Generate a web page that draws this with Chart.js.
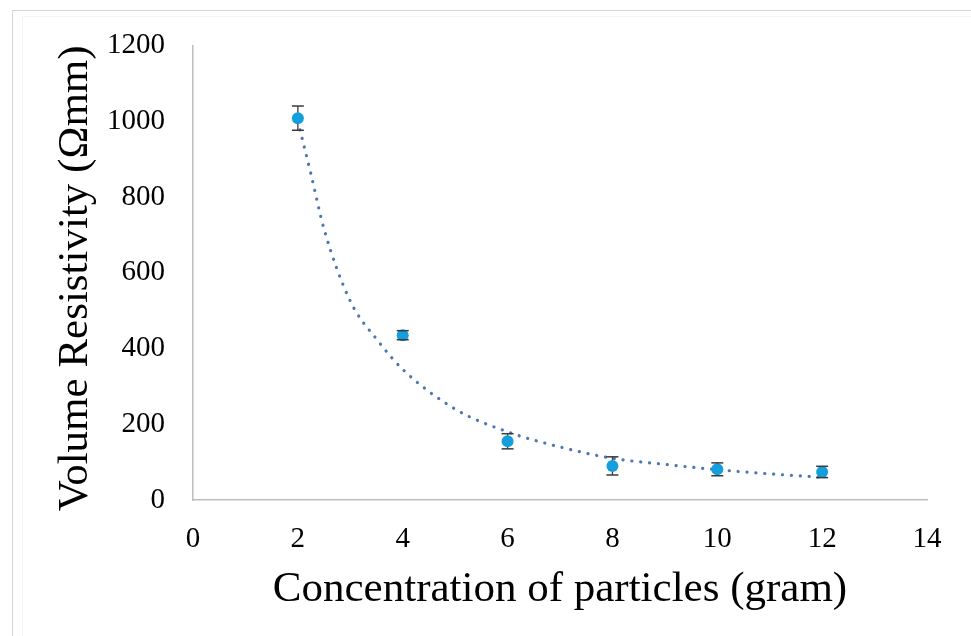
<!DOCTYPE html>
<html>
<head>
<meta charset="utf-8">
<script src="https://cdn.jsdelivr.net/npm/chart.js@4.4.1/dist/chart.umd.min.js"></script>
<style>
  html, body { margin: 0; padding: 0; background: #fff; }
  #wrap { position: relative; width: 971px; height: 636px; overflow: hidden; }
  #frame { position: absolute; left: 12px; top: 10px; width: 1000px; height: 700px;
           border-left: 1px solid #d6d6d6; border-top: 1px solid #d6d6d6; }
  #frame2 { position: absolute; left: 22px; top: 16px; width: 1000px; height: 700px;
           border-left: 1px solid #f4f4f4; border-top: 1px solid #f4f4f4; }
  canvas { position: absolute; left: 0; top: 0; }
</style>
</head>
<body>
<div id="wrap">
  <div id="frame"></div>
  <div id="frame2"></div>
  <canvas id="chart" width="971" height="636"></canvas>
</div>
<script>
// measured points
var concentration = [2, 4, 6, 8, 10, 12];
var resistivity = [1008, 435, 155, 90, 81, 74];
var errorBars = [32, 12, 20, 24, 17, 15];

// power trendline
var trendX = [2, 2.25, 2.5, 3, 3.5, 4, 5, 6, 7, 8, 9, 10, 11, 12];
var trendY = [1000, 860, 715, 525, 425, 345, 240, 180, 140, 110, 94, 80, 69, 60];

var xTicks = [0, 2, 4, 6, 8, 10, 12, 14];
var yTicks = [0, 200, 400, 600, 800, 1000, 1200];

var FONT = "'Liberation Serif', 'Times New Roman', serif";

function toPoints(xs, ys){
  var pts = [];
  for (var i = 0; i < xs.length; i++) pts.push({x: xs[i], y: ys[i]});
  return pts;
}

// vertical bars go under the markers, caps on top
const errorBarPlugin = {
  id: 'errorBars',
  beforeDatasetsDraw(chart){
    var ctx = chart.ctx, xs = chart.scales.x, ys = chart.scales.y;
    ctx.save();
    ctx.strokeStyle = '#3a3a3a';
    ctx.lineWidth = 1.3;
    for (var i = 0; i < concentration.length; i++){
      var px = xs.getPixelForValue(concentration[i]);
      ctx.beginPath();
      ctx.moveTo(px, ys.getPixelForValue(resistivity[i] + errorBars[i]));
      ctx.lineTo(px, ys.getPixelForValue(resistivity[i] - errorBars[i]));
      ctx.stroke();
    }
    ctx.restore();
  },
  afterDatasetsDraw(chart){
    var ctx = chart.ctx, xs = chart.scales.x, ys = chart.scales.y;
    ctx.save();
    ctx.strokeStyle = '#3a3a3a';
    ctx.lineWidth = 1.5;
    for (var i = 0; i < concentration.length; i++){
      var px = xs.getPixelForValue(concentration[i]);
      [resistivity[i] + errorBars[i], resistivity[i] - errorBars[i]].forEach(function(v){
        var py = ys.getPixelForValue(v);
        ctx.beginPath();
        ctx.moveTo(px - 6, py);
        ctx.lineTo(px + 6, py);
        ctx.stroke();
      });
    }
    ctx.restore();
  }
};

new Chart(document.getElementById('chart'), {
  type: 'scatter',
  data: {
    datasets: [
      {
        label: 'Volume Resistivity',
        data: toPoints(concentration, resistivity),
        backgroundColor: '#149fdc',
        borderColor: '#149fdc',
        pointRadius: 6,
        pointBorderWidth: 0
      },
      {
        label: 'Power trend',
        type: 'line',
        data: toPoints(trendX, trendY),
        borderColor: '#4d77b0',
        borderWidth: 3.2,
        borderDash: [0.1, 8.8],
        borderCapStyle: 'round',
        cubicInterpolationMode: 'monotone',
        pointRadius: 0,
        fill: false
      }
    ]
  },
  options: {
    responsive: false,
    animation: false,
    layout: { padding: { top: 42, right: 44, bottom: 0, left: 0 } },
    plugins: { legend: { display: false }, tooltip: { enabled: false } },
    scales: {
      x: {
        type: 'linear',
        min: 0, max: 14,
        afterBuildTicks(scale){ scale.ticks = xTicks.map(function(v){ return {value: v}; }); },
        afterFit(scale){ scale.height = 136; },
        grid: { display: false, drawTicks: false },
        border: { display: true, color: '#bdbdbd', width: 1.5 },
        ticks: { color: '#000', padding: 22, font: { family: FONT, size: 29 },
                 callback: function(v){ return String(v); } },
        title: {
          display: true,
          text: 'Concentration of particles (gram)',
          color: '#000',
          font: { family: FONT, size: 43 },
          padding: { top: 0, bottom: 20 }
        }
      },
      y: {
        type: 'linear',
        min: 0, max: 1200,
        afterBuildTicks(scale){ scale.ticks = yTicks.map(function(v){ return {value: v}; }); },
        afterFit(scale){ scale.width = 193; },
        grid: { display: false, drawTicks: false },
        border: { display: true, color: '#bdbdbd', width: 1.5 },
        ticks: { color: '#000', padding: 28, font: { family: FONT, size: 29 },
                 callback: function(v){ return String(v); } },
        title: {
          display: true,
          text: 'Volume Resistivity (Ωmm)',
          align: 'end',
          color: '#000',
          font: { family: FONT, size: 43 },
          padding: { top: 50, bottom: 0 }
        }
      }
    }
  },
  plugins: [errorBarPlugin]
});
</script>
</body>
</html>
